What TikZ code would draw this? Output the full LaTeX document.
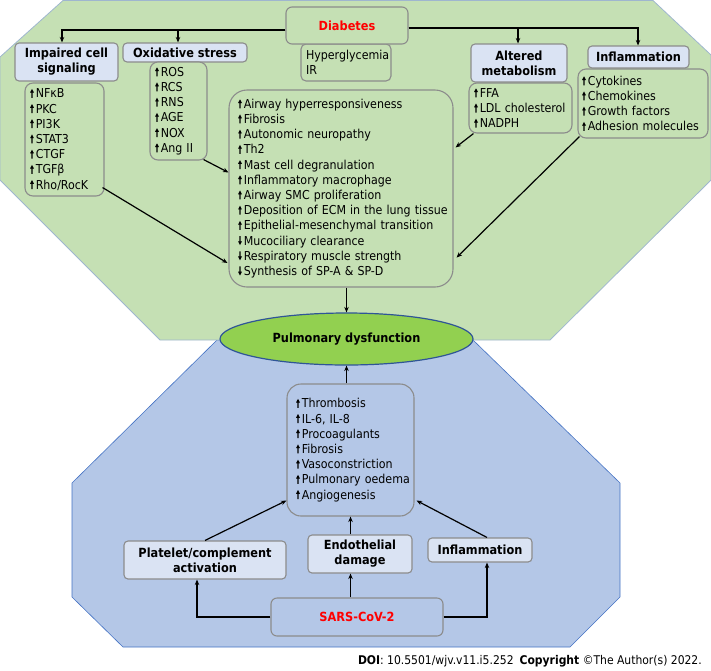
\documentclass[tikz,border=0pt]{standalone}
\usepackage{fontspec}
\usepackage{graphicx}
\setmainfont{DejaVu Sans Condensed}
\usetikzlibrary{arrows.meta,shapes.geometric}
\definecolor{greenbg}{HTML}{C5E0B4}
\definecolor{bluebg}{HTML}{B4C7E7}
\definecolor{lightbox}{HTML}{DAE3F3}
\definecolor{boxgray}{HTML}{8C8C8C}
\definecolor{ellfill}{HTML}{92D050}
\definecolor{elldraw}{HTML}{2F5597}
\definecolor{octgreen}{HTML}{9FB6CF}
\definecolor{octblue}{HTML}{4472C4}
\definecolor{redtext}{HTML}{FF0000}
\newcommand\upa{\tikz[x=1pt,y=1pt,baseline=0pt,sharp corners,line width=0.4pt]{\path[fill=black,draw=none] (1.3,0) -- (2.7,0) -- (2.7,5.2) -- (4,5.2) -- (2,9) -- (0,5.2) -- (1.3,5.2) -- cycle;}\hspace{1.8pt}}
\newcommand\dna{\tikz[x=1pt,y=1pt,baseline=0pt,sharp corners,line width=0.4pt]{\path[fill=black,draw=none] (1.3,9) -- (2.7,9) -- (2.7,3.8) -- (4,3.8) -- (2,0) -- (0,3.8) -- (1.3,3.8) -- cycle;}\hspace{1.8pt}}
\newcommand\cua{\hspace*{5pt}\upa}
\newcommand\cda{\hspace*{5pt}\dna}
\tikzset{
  listbox/.style={draw=boxgray, line width=1.1pt, rounded corners=8pt, fill=greenbg,
    align=left, inner xsep=5pt, inner ysep=0pt},
  bluelist/.style={listbox, fill=bluebg},
  headbox/.style={draw=boxgray, line width=1.1pt, rounded corners=4pt, fill=lightbox,
    align=center, inner sep=0pt, font=\fontsize{12.6}{15}\selectfont\bfseries},
  arr/.style={line width=1.2pt, -{Stealth[length=5.5pt,width=4.5pt]}},
}
\begin{document}
\begin{tikzpicture}[x=1pt,y=-1pt, font=\fontsize{12.3}{15.2}\selectfont]
\useasboundingbox (0,0) rectangle (711,670);
% background octagons
\fill[bluebg, draw=octblue, line width=0.6pt] (217,340) -- (473,340) -- (620,483) -- (620,597) -- (570,647) -- (123,647) -- (72,597) -- (72,483) -- cycle;
\fill[greenbg, draw=octgreen, line width=0.8pt] (63,0.5) -- (653,0.5) -- (711,55) -- (711,180) -- (550,340) -- (160,340) -- (0,180) -- (0,57) -- cycle;

% top nodes
\node[listbox, rounded corners=5pt, minimum height=37pt, text width=80pt] (hyp) at (346,62.5) {Hyperglycemia\\IR};
\node[headbox, fill=greenbg, rounded corners=6pt, minimum width=122pt, minimum height=37pt, text=redtext] (diab) at (347,25.5) {Diabetes};
\node[headbox, minimum width=103pt, minimum height=38pt] (ics) at (66.5,62) {Impaired cell\\signaling};
\node[headbox, minimum width=124pt, minimum height=19pt] (oxs) at (185,52.5) {Oxidative stress};
\node[headbox, minimum width=96pt, minimum height=38pt] (alt) at (519,63) {Altered\\metabolism};
\node[headbox, minimum width=101pt, minimum height=22pt] (inf) at (638.5,57) {Inflammation};

\node[listbox, minimum height=113pt, text width=69pt] (icsl) at (64.5,139.5)
  {\upa NFκB\\\upa PKC\\\upa PI3K\\\upa STAT3\\\upa CTGF\\\upa TGFβ\\\upa Rho/RocK};
\node[listbox, minimum height=98pt, text width=47pt] (oxsl) at (178.5,111)
  {\upa ROS\\\upa RCS\\\upa RNS\\\upa AGE\\\upa NOX\\\upa Ang II};
\node[listbox, rounded corners=18pt, inner xsep=4pt, minimum height=197pt, text width=216pt] (cen) at (341,188.5)
  {\cua Airway hyperresponsiveness\\\cua Fibrosis\\\cua Autonomic neuropathy\\\cua Th2\\\cua Mast cell degranulation\\\cua Inflammatory macrophage\\\cua Airway SMC proliferation\\\cua Deposition of ECM in the lung tissue\\\cua Epithelial-mesenchymal transition\\\cda Mucociliary clearance\\\cda Respiratory muscle strength\\\cda Synthesis of SP-A \& SP-D};
\node[listbox, minimum height=50pt, text width=93pt] (altl) at (520.5,108)
  {\upa FFA\\\upa LDL cholesterol\\\upa NADPH};
\node[listbox, inner xsep=4pt, minimum height=69pt, text width=122pt] (infl) at (643,103.5)
  {\upa Cytokines\\\upa Chemokines\\\upa Growth factors\\\upa Adhesion molecules};

% ellipse
\node[ellipse, fill=ellfill, draw=elldraw, line width=1.2pt, minimum width=253pt, minimum height=52pt, inner sep=0pt, font=\fontsize{12.6}{15}\selectfont\bfseries] (ell) at (346.5,339) {Pulmonary dysfunction};

% bottom nodes
\node[bluelist, rounded corners=14pt, inner xsep=4pt, minimum height=132pt, text width=119pt] (bcen) at (350.5,450)
  {\cua Thrombosis\\\cua IL-6, IL-8\\\cua Procoagulants\\\cua Fibrosis\\\cua Vasoconstriction\\\cua Pulmonary oedema\\\cua Angiogenesis};
\node[headbox, minimum width=162pt, minimum height=38pt] (plat) at (205,560) {Platelet/complement\\activation};
\node[headbox, minimum width=104pt, minimum height=38pt] (endo) at (360,554) {Endothelial\\damage};
\node[headbox, minimum width=104pt, minimum height=24pt] (infb) at (480,550) {Inflammation};
\node[headbox, fill=bluebg, rounded corners=6pt, minimum width=172pt, minimum height=38pt, text=redtext] (sars) at (357,617) {SARS-CoV-2};

% connectors top
\draw[arr] ([yshift=-4.5pt]diab.west) -| ([xshift=-4.5pt]ics.north);
\draw[arr] ([yshift=-4.5pt]diab.west) -| ([xshift=-7pt]oxs.north);
\draw[arr] ([yshift=-2.5pt]diab.east) -| ([xshift=-1pt]alt.north);
\draw[arr] ([yshift=-2.5pt]diab.east) -| ([xshift=-0.5pt]inf.north);
\draw[arr] ([xshift=-2pt,yshift=9pt]icsl.south east) -- ([xshift=-1pt,yshift=-74.5pt]cen.west);
\draw[arr] ([xshift=-4pt,yshift=1pt]oxsl.south east) -- ([yshift=-83pt]cen.north west);
\draw[arr] ([xshift=5pt]altl.south west) -- ([xshift=2pt,yshift=-58pt]cen.north east);
\draw[arr] ([xshift=2pt,yshift=2pt]infl.south west) -- ([xshift=3pt,yshift=30pt]cen.south east);
\draw[arr] (ell.north |- cen.south) -- (ell.north);
\draw[arr] (ell.south |- bcen.north) -- (ell.south);

% connectors bottom
\draw[arr] (plat.north) -- ([xshift=0pt,yshift=16pt]bcen.south west);
\draw[arr] (endo.north -| bcen.south) -- (bcen.south);
\draw[arr] ([xshift=7pt]infb.north) -- ([xshift=2pt,yshift=16pt]bcen.south east);
\draw[arr] (sars.west) -| ([xshift=-8pt]plat.south);
\draw[arr] (sars.north -| bcen.south) -- (endo.south -| bcen.south);
\draw[arr] (sars.east) -| ([xshift=7pt]infb.south);

% footer
\node[anchor=base east, inner sep=0pt, font=\fontsize{12}{14}\selectfont] (doi) at (702,664)
  {\textbf{DOI}: 10.5501/wjv.v11.i5.252\enspace\textbf{Copyright} \textcopyright The Author(s) 2022.};
\end{tikzpicture}
\end{document}
